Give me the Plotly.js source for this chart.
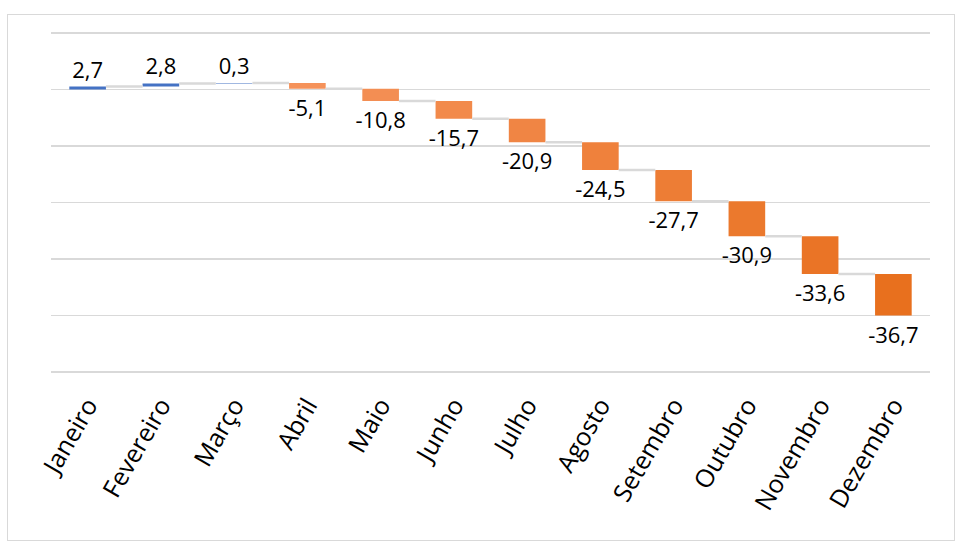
<!DOCTYPE html>
<html>
<head>
<meta charset="utf-8">
<script src="https://cdn.plot.ly/plotly-3.0.1.min.js"></script>
<style>
  html, body { margin: 0; padding: 0; background: #ffffff; }
  #wrap { position: relative; width: 963px; height: 558px; }
  #chart { position: absolute; left: 0; top: 0; width: 963px; height: 558px; }
  #frame { position: absolute; left: 7px; top: 14px; width: 946px; height: 525px;
           border: 1.5px solid #D9D9D9; pointer-events: none; }
</style>
</head>
<body>
<div id="wrap">
  <div id="chart"></div>
  <div id="frame"></div>
</div>
<script>
// ---- data ----
var months = ["Janeiro", "Fevereiro", "Março", "Abril", "Maio", "Junho",
              "Julho", "Agosto", "Setembro", "Outubro", "Novembro", "Dezembro"];
var values = [2.7, 2.8, 0.3, -5.1, -10.8, -15.7, -20.9, -24.5, -27.7, -30.9, -33.6, -36.7];

// ---- derived: running totals for the waterfall ----
var idx = [], bases = [], ends = [];
var cum = 0;
for (var i = 0; i < values.length; i++) {
  idx.push(i);
  bases.push(cum);
  cum += values[i];
  ends.push(cum);
}

// colours: blue for gains, orange getting darker for losses
function lerp(a, b, t) { return Math.round(a + (b - a) * t); }
var light = [245, 146, 90], dark = [232, 112, 30];
var negIdx = idx.filter(function (i) { return values[i] < 0; });
var colors = values.map(function (v, i) {
  if (v >= 0) return "#4472C4";
  var t = negIdx.length > 1 ? negIdx.indexOf(i) / (negIdx.length - 1) : 0;
  return "rgb(" + lerp(light[0], dark[0], t) + "," + lerp(light[1], dark[1], t) + "," + lerp(light[2], dark[2], t) + ")";
});

var labels = values.map(function (v) { return v.toFixed(1).replace(".", ","); });

// connectors between consecutive bars
var halfW = 0.25;
var cx = [], cy = [];
for (var j = 0; j < values.length - 1; j++) {
  cx.push(idx[j] + halfW, idx[j + 1] - halfW, null);
  cy.push(ends[j], ends[j], null);
}

var font = "'Open Sans', 'Noto Sans', sans-serif";

var traces = [
  {
    type: "scatter", mode: "lines", x: cx, y: cy,
    line: { color: "#D9D9D9", width: 2.5 },
    hoverinfo: "skip", showlegend: false
  },
  {
    type: "bar", x: idx, y: values, base: bases, width: 2 * halfW,
    marker: { color: colors, line: { width: 0 } },
    text: labels, textposition: "outside", cliponaxis: false,
    constraintext: "none",
    textfont: { family: font, size: 22, color: "#000000" },
    hoverinfo: "x+y", showlegend: false
  }
];

var layout = {
  width: 963, height: 558,
  margin: { l: 51, r: 33, t: 32, b: 185 },
  paper_bgcolor: "#ffffff", plot_bgcolor: "#ffffff",
  font: { family: font, size: 22, color: "#000000" },
  showlegend: false,
  xaxis: {
    range: [-0.5, values.length - 0.5],
    tickvals: idx, ticktext: months, tickangle: -60,
    tickfont: { family: font, size: 25, color: "#000000" },
    showgrid: false, zeroline: false, showline: false, ticks: "",
    ticklabelstandoff: 12
  },
  yaxis: {
    range: [-251, 51], tickvals: [50, 0, -50, -100, -150, -200, -250],
    showticklabels: false, ticks: "",
    showgrid: true, gridcolor: "#D9D9D9", gridwidth: 1.5,
    zeroline: false, showline: false
  }
};

Plotly.newPlot("chart", traces, layout, { staticPlot: true });
</script>
</body>
</html>
